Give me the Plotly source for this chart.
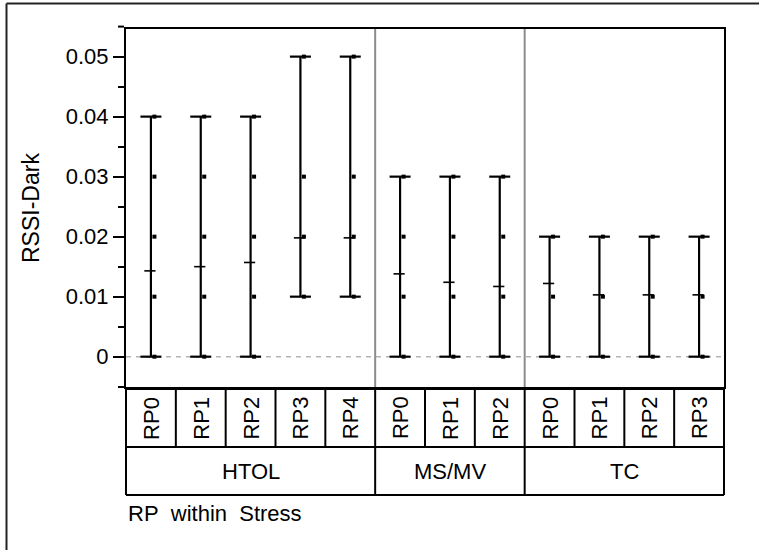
import plotly.graph_objects as go

# Variability chart of RSSI-Dark, RP nested within Stress
stress = ["HTOL", "HTOL", "HTOL", "HTOL", "HTOL",
          "MS/MV", "MS/MV", "MS/MV",
          "TC", "TC", "TC", "TC"]
rp = ["RP0", "RP1", "RP2", "RP3", "RP4",
      "RP0", "RP1", "RP2",
      "RP0", "RP1", "RP2", "RP3"]
range_lo = [0.0, 0.0, 0.0, 0.01, 0.01,
            0.0, 0.0, 0.0,
            0.0, 0.0, 0.0, 0.0]
range_hi = [0.04, 0.04, 0.04, 0.05, 0.05,
            0.03, 0.03, 0.03,
            0.02, 0.02, 0.02, 0.02]
cell_mean = [0.0143, 0.0150, 0.0157, 0.0198, 0.0198,
             0.0138, 0.0124, 0.0117,
             0.0122, 0.0103, 0.0103, 0.0103]
observations = [
    [0.0, 0.01, 0.02, 0.03, 0.04],
    [0.0, 0.01, 0.02, 0.03, 0.04],
    [0.0, 0.01, 0.02, 0.03, 0.04],
    [0.01, 0.02, 0.03, 0.05],
    [0.01, 0.02, 0.03, 0.05],
    [0.0, 0.01, 0.02, 0.03],
    [0.0, 0.01, 0.02, 0.03],
    [0.0, 0.01, 0.02, 0.03],
    [0.0, 0.01, 0.02],
    [0.0, 0.01, 0.02],
    [0.0, 0.01, 0.02],
    [0.0, 0.01, 0.02],
]
y_ticks = [0.0, 0.01, 0.02, 0.03, 0.04, 0.05]
y_ticktext = ["0", "0.01", "0.02", "0.03", "0.04", "0.05"]
y_title = "RSSI-Dark"
x_title = "RP\u00a0 within\u00a0 Stress"

# page / frame geometry (pixels)
W, H = 759, 550
L, R, T, B = 126, 724, 29, 387
Y0, Y1 = -0.00505, 0.0546
FONT = "Liberation Sans, Arial, sans-serif"
FS = 22
n = len(rp)
xs = list(range(n))


def px_x(px):
    return (px - L) / (R - L)


def px_y(py):
    return (B - py) / (B - T)


fig = go.Figure()

# range bars
bx, by = [], []
for i in xs:
    bx += [i, i, None]
    by += [range_lo[i], range_hi[i], None]
fig.add_trace(go.Scatter(x=bx, y=by, mode="lines",
                         line=dict(color="black", width=2.2),
                         hoverinfo="skip", showlegend=False))

# caps at min / max
fig.add_trace(go.Scatter(x=xs + xs, y=range_lo + range_hi, mode="markers",
                         marker=dict(symbol="line-ew", size=15,
                                     line=dict(color="black", width=2.2)),
                         showlegend=False))

# individual observations, drawn just right of the bar
ox, oy = [], []
for i in xs:
    for v in observations[i]:
        ox.append(i + 0.07)
        oy.append(v)
fig.add_trace(go.Scatter(x=ox, y=oy, mode="markers",
                         marker=dict(symbol="square", size=4, color="black",
                                     line=dict(width=0)),
                         showlegend=False))

# cell means
fig.add_trace(go.Scatter(x=[i - 0.02 for i in xs], y=cell_mean, mode="markers",
                         marker=dict(symbol="line-ew", size=8,
                                     line=dict(color="black", width=1.6)),
                         showlegend=False))

shapes = []
# dashed zero reference
shapes.append(dict(type="line", xref="paper", yref="y", x0=0, x1=1, y0=0, y1=0,
                   line=dict(color="#b4b4b4", width=1.5, dash="5px,5px"),
                   layer="below"))

# group boundaries inside the plot
bounds = [0]
for i in range(1, n):
    if stress[i] != stress[i - 1]:
        bounds.append(i)
bounds.append(n)
for b in bounds[1:-1]:
    shapes.append(dict(type="line", xref="x", yref="paper", x0=b - 0.5, x1=b - 0.5,
                       y0=0, y1=1, line=dict(color="#8c8c8c", width=2)))

# minor tick above the top of the frame
shapes.append(dict(type="line", xref="paper", yref="paper",
                   x0=px_x(118), x1=px_x(124),
                   y0=(0.055 - Y0) / (Y1 - Y0), y1=(0.055 - Y0) / (Y1 - Y0),
                   line=dict(color="black", width=2)))

# category table below the plot
r1_top, r1_bot, r2_bot = 389, 447, 495
line_k = dict(color="black", width=2)
for py in (r1_top, r1_bot, r2_bot):
    shapes.append(dict(type="line", xref="paper", yref="paper", x0=0, x1=1,
                       y0=px_y(py), y1=px_y(py), line=line_k))
for k in range(n + 1):
    shapes.append(dict(type="line", xref="paper", yref="paper", x0=k / n, x1=k / n,
                       y0=px_y(r1_top), y1=px_y(r1_bot), line=line_k))
for b in bounds:
    shapes.append(dict(type="line", xref="paper", yref="paper", x0=b / n, x1=b / n,
                       y0=px_y(r1_bot), y1=px_y(r2_bot), line=line_k))

# outer report frame
frame_c = dict(color="#222222", width=2)
shapes.append(dict(type="line", xref="paper", yref="paper",
                   x0=px_x(6.5), x1=px_x(6.5), y0=px_y(3.5), y1=px_y(H + 10), line=frame_c))
shapes.append(dict(type="line", xref="paper", yref="paper",
                   x0=px_x(6.5), x1=px_x(W + 10), y0=px_y(3.5), y1=px_y(3.5), line=frame_c))

annotations = []
for i in xs:
    annotations.append(dict(x=i, y=px_y((r1_top + r1_bot) / 2), xref="x", yref="paper",
                            text=rp[i], textangle=-90, showarrow=False,
                            font=dict(family=FONT, size=FS, color="black"),
                            xanchor="center", yanchor="middle"))
for a, b in zip(bounds[:-1], bounds[1:]):
    annotations.append(dict(x=(a + b - 1) / 2, y=px_y((r1_bot + r2_bot) / 2),
                            xref="x", yref="paper", text=stress[a], showarrow=False,
                            font=dict(family=FONT, size=FS, color="black"),
                            xanchor="center", yanchor="middle"))
annotations.append(dict(x=px_x(126), y=px_y(513), xref="paper", yref="paper",
                        text=x_title, showarrow=False, xanchor="left", yanchor="middle",
                        font=dict(family=FONT, size=FS, color="black")))
annotations.append(dict(x=px_x(31), y=px_y(208), xref="paper", yref="paper",
                        text=y_title, textangle=-90, showarrow=False,
                        xanchor="center", yanchor="middle",
                        font=dict(family=FONT, size=23, color="black")))

fig.update_layout(
    width=W, height=H,
    margin=dict(l=L, r=W - R, t=T, b=H - B, pad=0),
    paper_bgcolor="white", plot_bgcolor="white",
    showlegend=False,
    shapes=shapes, annotations=annotations,
    xaxis=dict(range=[-0.5, n - 0.5], showgrid=False, zeroline=False,
               showticklabels=False, ticks="",
               showline=True, mirror=True, linecolor="black", linewidth=2),
    yaxis=dict(range=[Y0, Y1], showgrid=False, zeroline=False,
               tickmode="array", tickvals=y_ticks, ticktext=y_ticktext,
               ticks="outside", ticklen=11, tickwidth=2, tickcolor="black",
               minor=dict(dtick=0.005, tick0=0, ticks="outside", ticklen=6,
                          tickwidth=2, tickcolor="black"),
               tickfont=dict(family=FONT, size=FS, color="black"),
               showline=True, mirror=True, linecolor="black", linewidth=2),
)

fig.write_html("out.html")
